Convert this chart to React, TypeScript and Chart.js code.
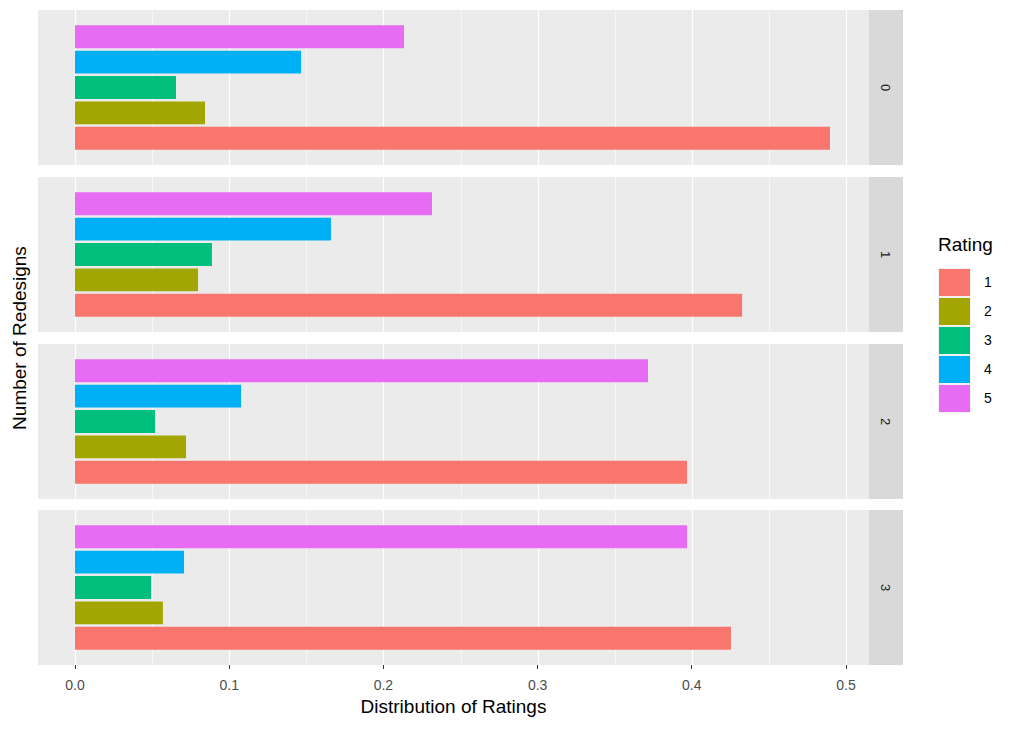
import React, { useEffect, useRef } from "react";
import { Chart, registerables } from "chart.js";
Chart.register(...registerables);

const ratings = ["5", "4", "3", "2", "1"];
const colors = ["#E76BF3", "#00B0F6", "#00BF7D", "#A3A500", "#F8766D"];
const facets = ["0", "1", "2", "3"];
const values0 = [0.2134, 0.1466, 0.0655, 0.0843, 0.4896];
const values1 = [0.2315, 0.166, 0.0888, 0.0798, 0.4326];
const values2 = [0.3716, 0.1077, 0.0519, 0.072, 0.3969];
const values3 = [0.3969, 0.0707, 0.0493, 0.057, 0.4254];
const allValues = [values0, values1, values2, values3];
const tickValues = [0, 0.1, 0.2, 0.3, 0.4, 0.5];
const tickLabels = ["0.0", "0.1", "0.2", "0.3", "0.4", "0.5"];
const XMIN = -0.024;
const XMAX = 0.5149;

const PL = 38, PW = 831, PH = 155, STRIP = 34;
const panelTops = [10, 177, 344, 510];

const bgPlugin = {
  id: "bg",
  beforeDatasetsDraw(chart: any) {
    const { ctx, width, height } = chart;
    const x = chart.scales.x;
    ctx.save();
    ctx.fillStyle = "#EBEBEB";
    ctx.fillRect(0, 0, width, height);
    ctx.strokeStyle = "#FFFFFF";
    for (let v = 0.05; v < XMAX; v += 0.1) {
      ctx.lineWidth = 0.6;
      const px = Math.round(x.getPixelForValue(v)) + 0.5;
      ctx.beginPath(); ctx.moveTo(px, 0); ctx.lineTo(px, height); ctx.stroke();
    }
    for (const v of tickValues) {
      ctx.lineWidth = 1.2;
      const px = Math.round(x.getPixelForValue(v)) + 0.5;
      ctx.beginPath(); ctx.moveTo(px, 0); ctx.lineTo(px, height); ctx.stroke();
    }
    ctx.restore();
  },
};

function Panel({ data }: { data: number[] }) {
  const ref = useRef<HTMLCanvasElement>(null);
  useEffect(() => {
    const chart = new Chart(ref.current!, {
      type: "bar",
      data: {
        labels: ratings,
        datasets: [{ data, backgroundColor: colors, barPercentage: 0.9, categoryPercentage: 1 }],
      },
      options: {
        indexAxis: "y",
        animation: false,
        responsive: false,
        layout: { padding: { top: 14, bottom: 14, left: 0, right: 0 } },
        plugins: { legend: { display: false }, tooltip: { enabled: false } },
        scales: {
          x: { display: false, min: XMIN, max: XMAX },
          y: { display: false },
        },
      },
      plugins: [bgPlugin],
    });
    return () => chart.destroy();
  }, [data]);
  return <canvas ref={ref} width={PW} height={PH} style={{ width: PW, height: PH, display: "block" }} />;
}

const px = (v: number) => PL + ((v - XMIN) / (XMAX - XMIN)) * PW;

export default function App() {
  const font = "Arial, 'Liberation Sans', sans-serif";
  const legendOrder = ["1", "2", "3", "4", "5"];
  const legendColors = ["#F8766D", "#A3A500", "#00BF7D", "#00B0F6", "#E76BF3"];
  return (
    <div style={{ position: "fixed", left: 0, top: 0, width: 1024, height: 731, background: "#fff", fontFamily: font }}>
      {facets.map((f, i) => (
        <React.Fragment key={f}>
          <div style={{ position: "absolute", left: PL, top: panelTops[i] }}>
            <Panel data={allValues[i]} />
          </div>
          <div style={{ position: "absolute", left: PL + PW, top: panelTops[i], width: STRIP, height: PH, background: "#D9D9D9", display: "flex", alignItems: "center", justifyContent: "center" }}>
            <span style={{ transform: "rotate(90deg)", fontSize: 13, color: "#1A1A1A" }}>{f}</span>
          </div>
        </React.Fragment>
      ))}
      {tickValues.map((v, i) => (
        <React.Fragment key={i}>
          <div style={{ position: "absolute", left: px(v) - 0.5, top: 665, width: 1, height: 4, background: "#333" }} />
          <div style={{ position: "absolute", left: px(v) - 30, top: 677, width: 60, textAlign: "center", fontSize: 14, color: "#4D4D4D" }}>{tickLabels[i]}</div>
        </React.Fragment>
      ))}
      <div style={{ position: "absolute", left: PL, width: PW, top: 696, textAlign: "center", fontSize: 19, color: "#000" }}>Distribution of Ratings</div>
      <div style={{ position: "absolute", left: 20, top: 338, width: 0, height: 0 }}>
        <div style={{ position: "absolute", transform: "translate(-50%,-50%) rotate(-90deg)", whiteSpace: "nowrap", fontSize: 19 }}>Number of Redesigns</div>
      </div>
      <div style={{ position: "absolute", left: 938, top: 234, fontSize: 19 }}>Rating</div>
      {legendOrder.map((r, i) => (
        <React.Fragment key={r}>
          <div style={{ position: "absolute", left: 938, top: 268 + i * 29, width: 33, height: 29, background: "#F2F2F2" }}>
            <div style={{ position: "absolute", left: 1, top: 1, right: 1, bottom: 1, background: legendColors[i] }} />
          </div>
          <div style={{ position: "absolute", left: 984, top: 268 + i * 29 + 6, fontSize: 14, color: "#000" }}>{r}</div>
        </React.Fragment>
      ))}
    </div>
  );
}
